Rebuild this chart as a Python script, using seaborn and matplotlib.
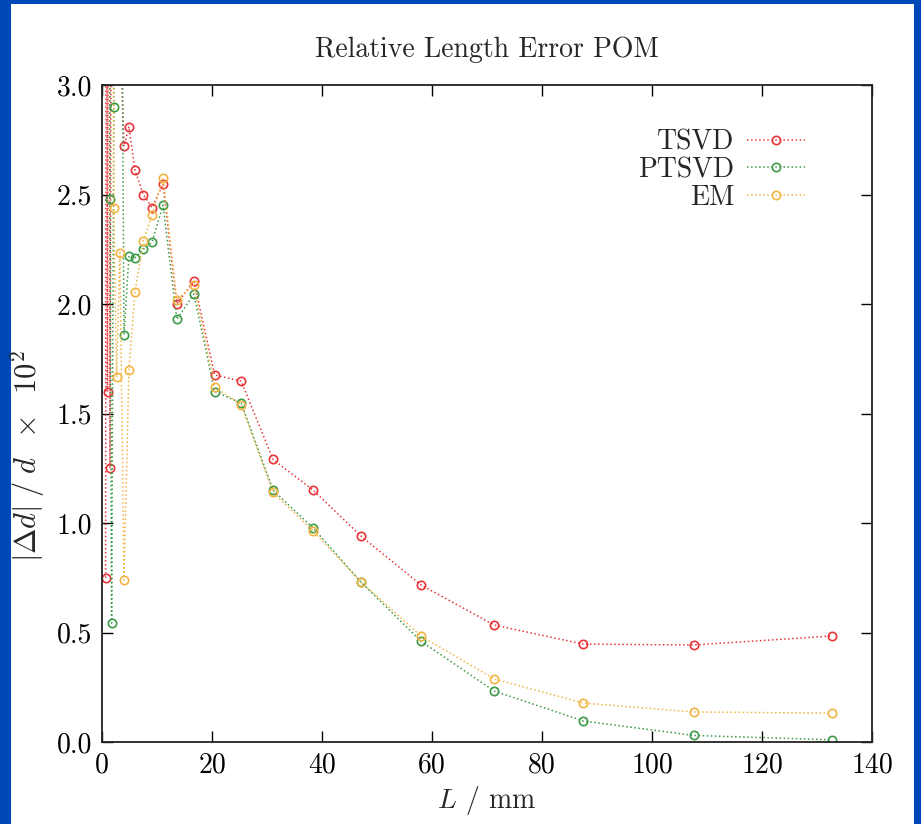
import numpy as np
import pandas as pd
import seaborn as sns
import matplotlib
matplotlib.use("Agg")
import matplotlib.pyplot as plt
from matplotlib.patches import Rectangle

# ---- data ----
L_mm = [0.65, 0.8, 1.0, 1.2, 1.45, 1.75, 2.15, 2.65, 3.25, 4.0, 4.9, 6.0, 7.5, 9.1,
        11.1, 13.6, 16.7, 20.5, 25.3, 31.1, 38.4, 47.1, 58.0, 71.3, 87.5, 107.6, 132.7]
tsvd = [0.75, 5.0, 1.60, 6.0, 1.25, 4.5, 7.0, 5.0, 3.3, 2.72, 2.81, 2.61, 2.50, 2.44,
        2.548, 2.00, 2.105, 1.676, 1.648, 1.29, 1.15, 0.94, 0.717, 0.534, 0.447, 0.443, 0.484]
ptsvd = [6.0, 8.0, 5.0, 7.0, 2.48, 0.543, 2.90, 6.0, 5.0, 1.86, 2.22, 2.21, 2.25, 2.283,
         2.452, 1.93, 2.045, 1.60, 1.548, 1.15, 0.977, 0.73, 0.46, 0.233, 0.096, 0.03, 0.01]
em = [5.0, 7.0, 6.0, 8.0, 5.0, 6.0, 2.44, 1.665, 2.235, 0.74, 1.70, 2.055, 2.288, 2.406,
      2.575, 2.02, 2.087, 1.62, 1.54, 1.14, 0.963, 0.73, 0.484, 0.288, 0.178, 0.137, 0.132]
series_names = ["TSVD", "PTSVD", "EM"]
x_ticks = [0, 20, 40, 60, 80, 100, 120, 140]
y_ticks = [0.0, 0.5, 1.0, 1.5, 2.0, 2.5, 3.0]

df = pd.concat([
    pd.DataFrame({"L": L_mm, "err": vals, "method": name})
    for name, vals in zip(series_names, [tsvd, ptsvd, em])
], ignore_index=True)

colors = {"TSVD": "#e8353a", "PTSVD": "#3d9a47", "EM": "#f2b544"}

sns.set_theme(style="ticks")
plt.rcParams["font.family"] = "serif"
plt.rcParams["font.serif"] = ["cmr10", "DejaVu Serif"]
plt.rcParams["mathtext.fontset"] = "cm"
plt.rcParams["axes.formatter.use_mathtext"] = True

fig = plt.figure(figsize=(9.21, 8.24), dpi=100)
fig.patch.set_facecolor("#0047b8")
fig.add_artist(Rectangle((11 / 921, 0), (914 - 11) / 921, (824 - 4) / 824,
                         transform=fig.transFigure, facecolor="white",
                         edgecolor="none", zorder=-10))
ax = fig.add_axes([102 / 921, (824 - 742) / 824, (872 - 102) / 921, (742 - 85) / 824])

for name in series_names:
    sub = df[df["method"] == name]
    sns.lineplot(data=sub, x="L", y="err", ax=ax, color=colors[name], label=name,
                 linestyle=":", linewidth=1.1, marker="o", markersize=6,
                 markerfacecolor="none", markeredgecolor=colors[name],
                 markeredgewidth=1.2, estimator=None, sort=False)

ax.set_xlim(0, 140)
ax.set_ylim(0, 3.0)
ax.set_xticks(x_ticks)
ax.set_yticks(y_ticks)
ax.set_yticklabels([f"{v:.1f}" for v in y_ticks])
ax.set_xticklabels([str(v) for v in x_ticks])
ax.tick_params(direction="in", length=8, width=1, top=True, right=True,
               labelsize=20, colors="black", pad=7)
for s in ax.spines.values():
    s.set_linewidth(1.3)
    s.set_color("#222222")

ax.set_xlabel(r"$L$ / mm", fontsize=20, labelpad=4)
ax.set_ylabel(r"$|\Delta d|\;/\;d \;\;\times\;\; 10^2$", fontsize=22)
ax.yaxis.set_label_coords(-0.071, 0.435)
ax.set_title("Relative Length Error POM", fontsize=20, pad=20)

leg = ax.legend(loc="upper right", frameon=False, markerfirst=False, fontsize=20,
                handlelength=2.1, labelspacing=0.05, borderaxespad=0.0,
                handletextpad=0.45, bbox_to_anchor=(805 / 921, (824 - 129) / 824),
                bbox_transform=fig.transFigure, borderpad=0.0)

fig.savefig("out.png", dpi=100, facecolor=fig.get_facecolor())
